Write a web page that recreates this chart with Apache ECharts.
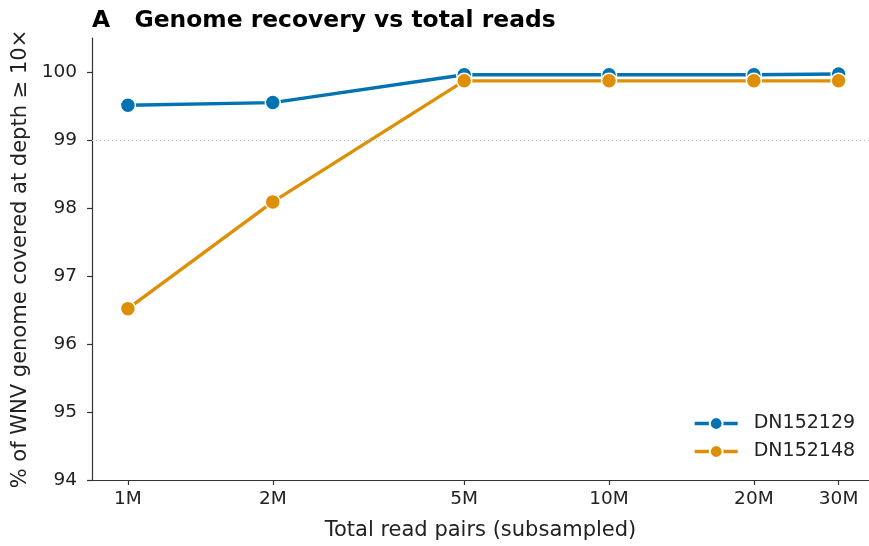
<!DOCTYPE html>
<html>
<head>
<meta charset="utf-8">
<script src="https://cdn.jsdelivr.net/npm/echarts@6/dist/echarts.min.js"></script>
<style>
  html, body { margin: 0; padding: 0; background: #fff; }
  #chart { width: 869px; height: 546px; }
</style>
</head>
<body>
<div id="chart"></div>
<script>
// Subsampling depth (total read pairs) and tick labels
const readPairs = [1e6, 2e6, 5e6, 1e7, 2e7, 3e7];
const readLabels = ['1M', '2M', '5M', '10M', '20M', '30M'];
const yTicks = [94, 95, 96, 97, 98, 99, 100];

// % of genome covered at depth >= 10x
const sampleNames = ['DN152129', 'DN152148'];
const dn152129 = [99.51, 99.55, 99.96, 99.96, 99.96, 99.97];
const dn152148 = [96.52, 98.09, 99.87, 99.87, 99.87, 99.87];
const refLine = 99;

const colors = ['#0173b2', '#de8f05'];
const font = 'DejaVu Sans';
const ink = '#222';

function pairs(xs, ys) { return xs.map((x, i) => [x, ys[i]]); }

function makeSeries(name, values, color, withRef) {
  const s = {
    name: name,
    type: 'line',
    data: pairs(readPairs, values),
    symbol: 'circle',
    symbolSize: 15,
    lineStyle: { color: color, width: 3.4 },
    itemStyle: { color: color, borderColor: '#fff', borderWidth: 1.5 },
    emphasis: { disabled: true },
    animation: false
  };
  if (withRef) {
    s.markLine = {
      silent: true,
      symbol: 'none',
      label: { show: false },
      lineStyle: { color: '#b8b8b8', type: [1, 3], width: 1 },
      data: [{ yAxis: refLine }],
      animation: false
    };
  }
  return s;
}

const chart = echarts.init(document.getElementById('chart'), null, { renderer: 'canvas' });
chart.setOption({
  backgroundColor: '#fff',
  animation: false,
  title: {
    text: 'A   Genome recovery vs total reads',
    left: 92,
    top: 9,
    padding: 0,
    textStyle: { fontFamily: font, fontWeight: 'bold', fontSize: 23.4, color: '#000' }
  },
  grid: { left: 92, right: 0, top: 38, bottom: 65.5, containLabel: false },
  legend: {
    orient: 'vertical',
    left: 693,
    top: 414,
    padding: 0,
    itemWidth: 43,
    itemHeight: 16,
    itemGap: 9,
    lineStyle: { width: 3.4 },
    textStyle: { fontFamily: font, fontSize: 19, color: ink, padding: [0, 0, 0, 11] },
    data: sampleNames
  },
  xAxis: {
    type: 'log',
    logBase: 10,
    min: 842000,
    max: 34700000,
    name: 'Total read pairs (subsampled)',
    nameLocation: 'middle',
    nameGap: 40,
    nameTextStyle: { fontFamily: font, fontSize: 21, color: ink },
    axisLine: { lineStyle: { color: '#333', width: 1.2 } },
    axisTick: { show: true, length: 5, inside: false, customValues: readPairs, lineStyle: { color: '#333', width: 1.2 } },
    minorTick: { show: false },
    splitLine: { show: false },
    axisLabel: {
      customValues: readPairs,
      fontFamily: font,
      fontSize: 18.5,
      color: ink,
      margin: 10,
      formatter: function (v) {
        const i = readPairs.findIndex(p => Math.abs(p - v) / p < 1e-6);
        return i >= 0 ? readLabels[i] : '';
      }
    }
  },
  yAxis: {
    type: 'value',
    min: 94,
    max: 100.5,
    name: '% of WNV genome covered at depth \u2265 10\u00d7',
    nameLocation: 'middle',
    nameGap: 49,
    nameRotate: 90,
    nameTextStyle: { fontFamily: font, fontSize: 21, color: ink },
    axisLine: { show: true, lineStyle: { color: '#333', width: 1.2 } },
    axisTick: { show: true, length: 5, customValues: yTicks, lineStyle: { color: '#333', width: 1.2 } },
    splitLine: { show: false },
    axisLabel: { customValues: yTicks, fontFamily: font, fontSize: 18.5, color: ink, margin: 15 }
  },
  series: [
    makeSeries(sampleNames[0], dn152129, colors[0], true),
    makeSeries(sampleNames[1], dn152148, colors[1], false)
  ]
});
</script>
</body>
</html>
